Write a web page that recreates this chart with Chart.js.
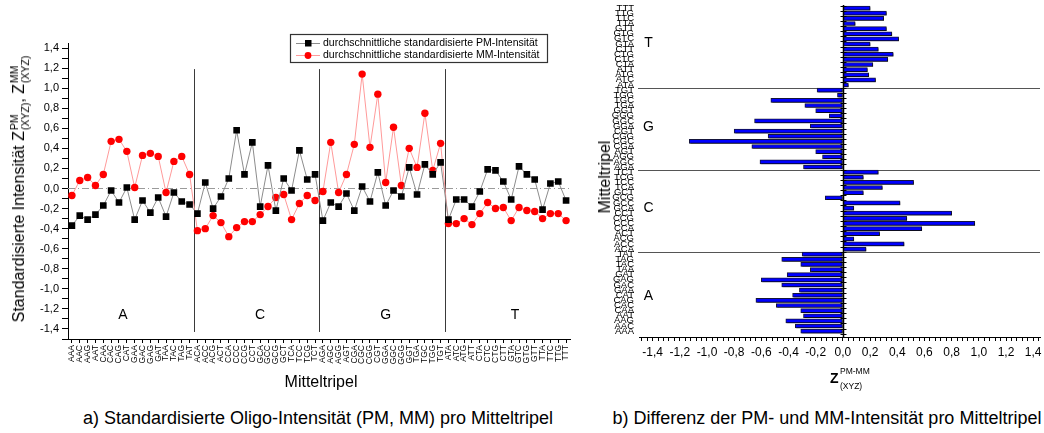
<!DOCTYPE html>
<html><head><meta charset="utf-8">
<script src="https://cdn.jsdelivr.net/npm/chart.js@4.4.0/dist/chart.umd.min.js"></script>
<style>
html,body{margin:0;padding:0;background:#fff;}
body{width:1044px;height:433px;position:relative;overflow:hidden;font-family:"Liberation Sans",Arial,sans-serif;color:#000;}
canvas{position:absolute;top:0;}
.t{position:absolute;white-space:nowrap;line-height:1;}
.c{transform:translate(-50%,-50%);}
.r{transform:translate(-50%,-50%) rotate(-90deg);}
.ss{display:inline-block;vertical-align:-5px;font-size:10.5px;line-height:11px;margin-left:1px;text-align:left;}
.ss span{display:block;}
</style></head>
<body>
<canvas id="c1" width="590" height="400" style="left:0"></canvas>
<canvas id="c2" width="454" height="400" style="left:590px"></canvas>

<div class="t r" style="left:20px;top:189px;font-size:16px;">Standardisierte Intensität Z<span class="ss"><span>PM</span><span>(XYZ)</span></span>, Z<span class="ss"><span>MM</span><span>(XYZ)</span></span></div>
<div class="t c" style="left:321px;top:382px;font-size:16px;">Mitteltripel</div>
<div class="t c" style="left:318px;top:418px;font-size:18px;">a) Standardisierte Oligo-Intensität (PM, MM) pro Mitteltripel</div>

<div class="t r" style="left:605px;top:177px;font-size:16px;">Mitteltripel</div>
<div class="t" style="left:830px;top:371px;font-size:14px;font-weight:bold;">Z</div>
<div class="t" style="left:840px;top:367px;font-size:8.5px;">PM-MM</div>
<div class="t" style="left:840px;top:382px;font-size:8.5px;">(XYZ)</div>
<div class="t c" style="left:827px;top:418px;font-size:18px;">b) Differenz der PM- und MM-Intensität pro Mitteltripel</div>

<script>
// ---------- data ----------
const triplets = [
 'AAA','AAC','AAG','AAT','CAA','CAC','CAG','CAT','GAA','GAC','GAG','GAT','TAA','TAC','TAG','TAT',
 'ACA','ACC','ACG','ACT','CCA','CCC','CCG','CCT','GCA','GCC','GCG','GCT','TCA','TCC','TCG','TCT',
 'AGA','AGC','AGG','AGT','CGA','CGC','CGG','CGT','GGA','GGC','GGG','GGT','TGA','TGC','TGG','TGT',
 'ATA','ATC','ATG','ATT','CTA','CTC','CTG','CTT','GTA','GTC','GTG','GTT','TTA','TTC','TTG','TTT'];
const groups = ['A','C','G','T'];
const pmValues = [
 -0.37,-0.27,-0.31,-0.26,-0.17,-0.02,-0.14,0.01,-0.31,-0.12,-0.24,-0.09,-0.28,-0.04,-0.13,-0.16,
 -0.25,0.06,-0.20,-0.08,0.10,0.58,0.14,0.46,-0.18,0.23,-0.22,0.10,-0.02,0.38,0.09,0.14,
 -0.32,-0.14,-0.18,-0.05,-0.22,0.02,-0.13,0.16,-0.17,-0.02,-0.08,0.21,-0.06,0.24,0.14,0.26,
 -0.31,-0.11,-0.11,-0.18,-0.03,0.19,0.18,0.07,-0.11,0.22,0.14,0.09,-0.21,0.05,0.07,-0.12];
const mmValues = [
 -0.07,0.08,0.11,0.03,0.14,0.47,0.49,0.37,0.01,0.33,0.35,0.32,-0.04,0.27,0.32,0.14,
 -0.42,-0.40,-0.27,-0.34,-0.48,-0.39,-0.33,-0.33,-0.26,-0.18,-0.09,-0.06,-0.31,-0.15,-0.07,-0.12,
 -0.03,0.46,-0.04,0.14,0.44,1.14,0.41,0.94,0.06,0.61,0.03,0.40,0.21,0.75,0.18,0.45,
 -0.35,-0.35,-0.30,-0.36,-0.25,-0.14,-0.20,-0.19,-0.32,-0.19,-0.22,-0.23,-0.30,-0.25,-0.25,-0.32];
const diffValues = [
 -0.31,-0.35,-0.42,-0.29,-0.31,-0.49,-0.64,-0.37,-0.32,-0.45,-0.60,-0.41,-0.24,-0.31,-0.45,-0.30,
 0.17,0.45,0.08,0.27,0.58,0.97,0.47,0.80,0.08,0.42,-0.13,0.15,0.29,0.52,0.15,0.26,
 -0.29,-0.61,-0.15,-0.20,-0.67,-1.13,-0.55,-0.80,-0.24,-0.65,-0.10,-0.20,-0.28,-0.53,-0.04,-0.19,
 0.04,0.24,0.19,0.18,0.22,0.33,0.37,0.26,0.20,0.41,0.36,0.32,0.09,0.30,0.32,0.20];
const groupBounds = [15.5, 31.5, 47.5];
const leftGroupLabelPos = [6.5, 24, 40, 56.5];
const rightGroupLabelPos = [6.85, 24, 39.8, 56.2];

// ---------- helpers ----------
const FONT = '"Liberation Sans", Arial, sans-serif';
Chart.defaults.font.family = FONT;
Chart.defaults.color = '#000';
const fmt = v => v.toFixed(1).replace('.', ',');
const isMult = (v, s) => { const q = v / s; return Math.abs(q - Math.round(q)) < 1e-6; };
const fixAxis = size => scale => {
  if (scale.isHorizontal()) scale.height = size; else scale.width = size;
  scale.paddingTop = scale.paddingBottom = scale.paddingLeft = scale.paddingRight = 0;
};
const stepTicks = (from, to, step) => scale => {
  const n = Math.round((to - from) / step);
  const t = [];
  for (let k = 0; k <= n; k++) t.push({value: Math.round((from + k * step) * 1000) / 1000});
  scale.ticks = t;
};

// ---------- left chart ----------
const leftDeco = {
  id: 'leftDeco',
  beforeDatasetsDraw(chart) {
    const {ctx, chartArea: ca, scales: {x, y}} = chart;
    ctx.save();
    const y0 = Math.round(y.getPixelForValue(0)) + 0.5;
    ctx.strokeStyle = '#9a9a9a'; ctx.lineWidth = 1; ctx.setLineDash([7, 3, 1, 3]);
    ctx.beginPath(); ctx.moveTo(ca.left, y0); ctx.lineTo(ca.right, y0); ctx.stroke();
    ctx.setLineDash([]);
    ctx.strokeStyle = '#3a3a3a';
    groupBounds.forEach(b => {
      const px = Math.round(x.getPixelForValue(b)) + 0.5;
      ctx.beginPath(); ctx.moveTo(px, y.getPixelForValue(1.19)); ctx.lineTo(px, y.getPixelForValue(-1.43)); ctx.stroke();
    });
    ctx.fillStyle = '#000'; ctx.font = '14px ' + FONT; ctx.textAlign = 'center'; ctx.textBaseline = 'middle';
    groups.forEach((g, i) => ctx.fillText(g, x.getPixelForValue(leftGroupLabelPos[i]), y.getPixelForValue(-1.265)));
    ctx.restore();
  },
  afterDraw(chart) {
    const ctx = chart.ctx;
    ctx.save();
    ctx.fillStyle = '#fff'; ctx.fillRect(290, 34, 257, 28);
    ctx.strokeStyle = '#333'; ctx.lineWidth = 1.2; ctx.strokeRect(290.5, 34.5, 257, 28);
    const rows = [
      {y: 43, line: '#8c8c8c', mark: 'rect', col: '#000', text: chart.data.datasets[0].label},
      {y: 55, line: '#ff9a9a', mark: 'circle', col: '#ff0000', text: chart.data.datasets[1].label}
    ];
    rows.forEach(r => {
      ctx.strokeStyle = r.line; ctx.lineWidth = 1;
      ctx.beginPath(); ctx.moveTo(296, r.y + 0.5); ctx.lineTo(320, r.y + 0.5); ctx.stroke();
      ctx.fillStyle = r.col;
      if (r.mark === 'rect') ctx.fillRect(305, r.y - 3, 6.5, 6.5);
      else { ctx.beginPath(); ctx.arc(308, r.y + 0.5, 3.4, 0, Math.PI * 2); ctx.fill(); }
      ctx.fillStyle = '#000'; ctx.font = '10.5px ' + FONT; ctx.textAlign = 'left'; ctx.textBaseline = 'middle';
      ctx.fillText(r.text, 323, r.y + 0.5);
    });
    ctx.restore();
  }
};

new Chart(document.getElementById('c1'), {
  type: 'line',
  data: {
    labels: triplets,
    datasets: [
      {label: 'durchschnittliche standardisierte PM-Intensität', data: pmValues,
       borderColor: '#8c8c8c', borderWidth: 1, tension: 0,
       pointStyle: 'rect', pointRadius: 4.7, pointBackgroundColor: '#000', pointBorderColor: '#000', pointBorderWidth: 0},
      {label: 'durchschnittliche standardisierte MM-Intensität', data: mmValues,
       borderColor: '#ff9a9a', borderWidth: 1, tension: 0,
       pointStyle: 'circle', pointRadius: 3.7, pointBackgroundColor: '#ff0000', pointBorderColor: '#ff0000', pointBorderWidth: 0}
    ]
  },
  options: {
    responsive: false, animation: false, devicePixelRatio: 1,
    layout: {padding: {top: 43, right: 20, left: 0, bottom: 0}},
    plugins: {legend: {display: false}, tooltip: {enabled: false}},
    scales: {
      x: {type: 'category', offset: true,
          grid: {drawOnChartArea: false, tickLength: 4, color: '#000'},
          border: {color: '#000', width: 1},
          ticks: {autoSkip: false, minRotation: 90, maxRotation: 90, font: {size: 8.5}, padding: 2},
          afterFit: fixAxis(61)},
      y: {type: 'linear', min: -1.5, max: 1.45,
          grid: {drawOnChartArea: false, tickLength: 6, color: '#000'},
          border: {color: '#000', width: 1},
          afterBuildTicks: stepTicks(-1.5, 1.4, 0.1),
          ticks: {autoSkip: false, font: {size: 11}, padding: 3,
                  callback: v => (isMult(v, 0.2) && Math.abs(v) < 1.41) ? fmt(v) : ''},
          afterFit: fixAxis(68)}
    }
  },
  plugins: [leftDeco]
});

// ---------- right chart ----------
const rightDeco = {
  id: 'rightDeco',
  beforeDatasetsDraw(chart) {
    const {ctx, chartArea: ca, scales: {x, y}} = chart;
    ctx.save();
    ctx.strokeStyle = '#555'; ctx.lineWidth = 1;
    groupBounds.forEach(b => {
      const py = Math.round(y.getPixelForValue(b)) + 0.5;
      ctx.beginPath(); ctx.moveTo(ca.left - 1, py); ctx.lineTo(ca.right, py); ctx.stroke();
    });
    ctx.fillStyle = '#000'; ctx.font = '14px ' + FONT; ctx.textAlign = 'center'; ctx.textBaseline = 'middle';
    groups.forEach((g, i) => ctx.fillText(g, x.getPixelForValue(-1.43), y.getPixelForValue(rightGroupLabelPos[i])));
    ctx.restore();
  },
  beforeDatasetDraw(chart) {
    const ctx = chart.ctx;
    ctx.save();
    ctx.shadowColor = 'rgba(0,0,0,0.45)'; ctx.shadowOffsetX = 1; ctx.shadowOffsetY = 1; ctx.shadowBlur = 0;
  },
  afterDatasetDraw(chart) { chart.ctx.restore(); },
  afterDatasetsDraw(chart) {
    const {ctx, chartArea: ca, scales: {x, y}} = chart;
    ctx.save();
    const x0 = Math.round(x.getPixelForValue(0)) + 0.5;
    ctx.strokeStyle = '#000'; ctx.lineWidth = 1.5;
    ctx.beginPath(); ctx.moveTo(x0, ca.top); ctx.lineTo(x0, ca.bottom); ctx.stroke();
    ctx.lineWidth = 1;
    for (let i = -1; i < triplets.length; i++) {
      const py = Math.round(y.getPixelForValue(i + 0.5)) + 0.5;
      ctx.beginPath(); ctx.moveTo(x0 - 3, py); ctx.lineTo(x0 + 3, py); ctx.stroke();
    }
    ctx.restore();
  }
};

new Chart(document.getElementById('c2'), {
  type: 'bar',
  data: {
    datasets: [{
      label: 'PM-MM', data: diffValues.map((v, i) => ({x: v, y: i})),
      backgroundColor: '#0000ff', borderColor: '#15153a', borderWidth: 1, barThickness: 4, borderSkipped: false
    }]
  },
  options: {
    indexAxis: 'y', responsive: false, animation: false, devicePixelRatio: 1,
    layout: {padding: {top: 5, right: 4, left: 0, bottom: 0}},
    plugins: {legend: {display: false}, tooltip: {enabled: false}},
    scales: {
      x: {type: 'linear', min: -1.5, max: 1.45, offset: false,
          grid: {drawOnChartArea: false, tickLength: 4, color: '#000'},
          border: {color: '#000', width: 1},
          afterBuildTicks: stepTicks(-1.48, 1.44, 0.04),
          ticks: {autoSkip: false, minRotation: 0, maxRotation: 0, font: {size: 12}, padding: 4,
                  callback: v => (isMult(v, 0.2) && Math.abs(v) < 1.41) ? fmt(v) : ''},
          afterFit: fixAxis(63)},
      y: {type: 'linear', min: -1.15, max: 63.6, offset: false,
          grid: {display: false, drawTicks: false, tickLength: 0}, border: {display: false},
          afterBuildTicks: stepTicks(0, 63, 1),
          ticks: {autoSkip: false, font: {size: 9.5}, padding: 5,
                  callback: v => triplets[Math.round(v)]},
          afterFit: fixAxis(49)}
    }
  },
  plugins: [rightDeco]
});
</script>
</body></html>
